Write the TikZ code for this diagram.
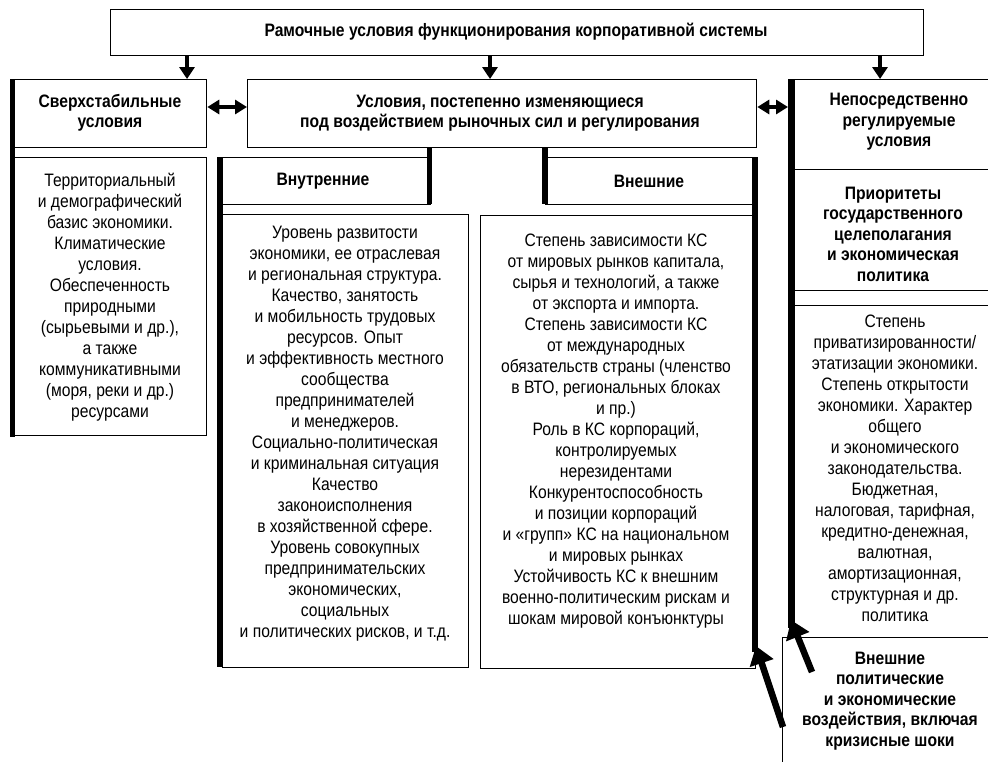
\documentclass[tikz,border=0pt]{standalone}
\usepackage{fontspec}
\setmainfont{Liberation Sans}[FakeStretch=0.87]
\usetikzlibrary{arrows.meta}
\begin{document}
\begin{tikzpicture}[x=1pt,y=-1pt,
  box/.style={draw, line width=1.3pt, inner sep=0pt, anchor=north west},
  txt/.style={align=center, font=\fontsize{18}{21}\selectfont, inner sep=0pt},
  btxt/.style={align=center, font=\fontsize{18}{20.5}\selectfont\bfseries, inner sep=0pt},
  bar/.style={fill=black},
  dn/.style={line width=4pt, -{Triangle[width=15pt,length=12pt]}},
  dbl/.style={line width=4pt, {Triangle[width=14pt,length=12pt]}-{Triangle[width=14pt,length=12pt]}},
  upar/.style={line width=6.5pt, -{Triangle[width=24pt,length=18pt]}}]
\useasboundingbox (0,0) rectangle (988,761);
\begin{scope}
\clip (0,0) rectangle (988,761);
% boxes
\node[box, minimum width=813pt, minimum height=46pt] (title) at (110,9) {};
\node[box, minimum width=192pt, minimum height=68pt] (sver) at (14,79) {};
\node[box, minimum width=192pt, minimum height=278pt] (sverB) at (14,157) {};
\node[box, minimum width=509pt, minimum height=68pt] (mid) at (247,79) {};
\node[box, minimum width=210pt, minimum height=47pt] (inH) at (220,157) {};
\node[box, minimum width=246pt, minimum height=453pt] (inB) at (222,214) {};
\node[box, minimum width=210pt, minimum height=47pt] (exH) at (545,157) {};
\node[box, minimum width=275pt, minimum height=453pt] (exB) at (480,215) {};
\node[box, minimum width=210pt, minimum height=90pt] (rH) at (791,79) {};
\node[box, minimum width=210pt, minimum height=121pt] (prio) at (791,169) {};
\node[box, minimum width=210pt, minimum height=15pt] (strip) at (791,290) {};
\node[box, minimum width=210pt, minimum height=332pt] (rB) at (791,305) {};
\node[box, minimum width=220pt, minimum height=140pt] (shock) at (782,637) {};
% thick bars
\fill[bar] (10,79) rectangle (15,437);
\fill[bar] (217,157) rectangle (223,667);
\fill[bar] (427,147) rectangle (432,204);
\fill[bar] (542,147) rectangle (548,204);
\fill[bar] (752,157) rectangle (758,652);
\fill[bar] (788,79) rectangle (795,628);
\end{scope}
% texts
\node[btxt] (titleT) at (516,32) {Рамочные условия функционирования корпоративной системы};
\node[btxt] (sverT) at (110,113) {Сверхстабильные\\условия};
\node[txt] (sverBT) at (110,297) {Территориальный\\и демографический\\базис экономики.\\Климатические\\условия.\\Обеспеченность\\природными\\(сырьевыми и др.),\\а также\\коммуникативными\\(моря, реки и др.)\\ресурсами};
\node[btxt] (midT) at (500,113) {Условия, постепенно изменяющиеся\\под воздействием рыночных сил и регулирования};
\node[btxt] (inHT) at (323,181) {Внутренние};
\node[txt] (inBT) at (345,434) {Уровень развитости\\экономики, ее отраслевая\\и региональная структура.\\Качество, занятость\\и мобильность трудовых\\ресурсов. Опыт\\и эффективность местного\\сообщества\\предпринимателей\\и менеджеров.\\Социально-политическая\\и криминальная ситуация\\Качество\\законоисполнения\\в хозяйственной сфере.\\Уровень совокупных\\предпринимательских\\экономических,\\социальных\\и политических рисков, и т.д.};
\node[btxt] (exHT) at (649,181) {Внешние};
\node[txt] (exBT) at (616,431) {Степень зависимости КС\\от мировых рынков капитала,\\сырья и технологий, а также\\от экспорта и импорта.\\Степень зависимости КС\\от международных\\обязательств страны (членство\\в ВТО, региональных блоках\\и пр.)\\Роль в КС корпораций,\\контролируемых\\нерезидентами\\Конкурентоспособность\\и позиции корпораций\\и «групп» КС на национальном\\и мировых рынках\\Устойчивость КС к внешним\\военно-политическим рискам и\\шокам мировой конъюнктуры};
\node[btxt] (rHT) at (899,122) {Непосредственно\\регулируемые\\условия};
\node[btxt] (prioT) at (893,234) {Приоритеты\\государственного\\целеполагания\\и экономическая\\политика};
\node[txt] (rBT) at (895,468) {Степень\\приватизированности/\\этатизации экономики.\\Степень открытости\\экономики. Характер\\общего\\и экономического\\законодательства.\\Бюджетная,\\налоговая, тарифная,\\кредитно-денежная,\\валютная,\\амортизационная,\\структурная и др.\\политика};
\node[btxt] (shockT) at (890,701) {Внешние\\политические\\и экономические\\воздействия, включая\\кризисные шоки};
% connectors
\draw[dn] (187,0 |- title.south) -- (187,0 |- sver.north);
\draw[dn] (490,0 |- title.south) -- (490,0 |- mid.north);
\draw[dn] (880,0 |- title.south) -- (880,0 |- rH.north);
\draw[dbl] (sver.east |- 0,107) -- (mid.west |- 0,107);
\draw[dbl] (mid.east |- 0,107) -- (788,107);
\coordinate (sa) at (812,672);
\coordinate (ta) at (791,620);
\coordinate (sb) at (783,727);
\coordinate (tb) at (756,646);
\draw[upar] (sa) -- (ta);
\draw[upar] (sb) -- (tb);
\end{tikzpicture}
\end{document}
